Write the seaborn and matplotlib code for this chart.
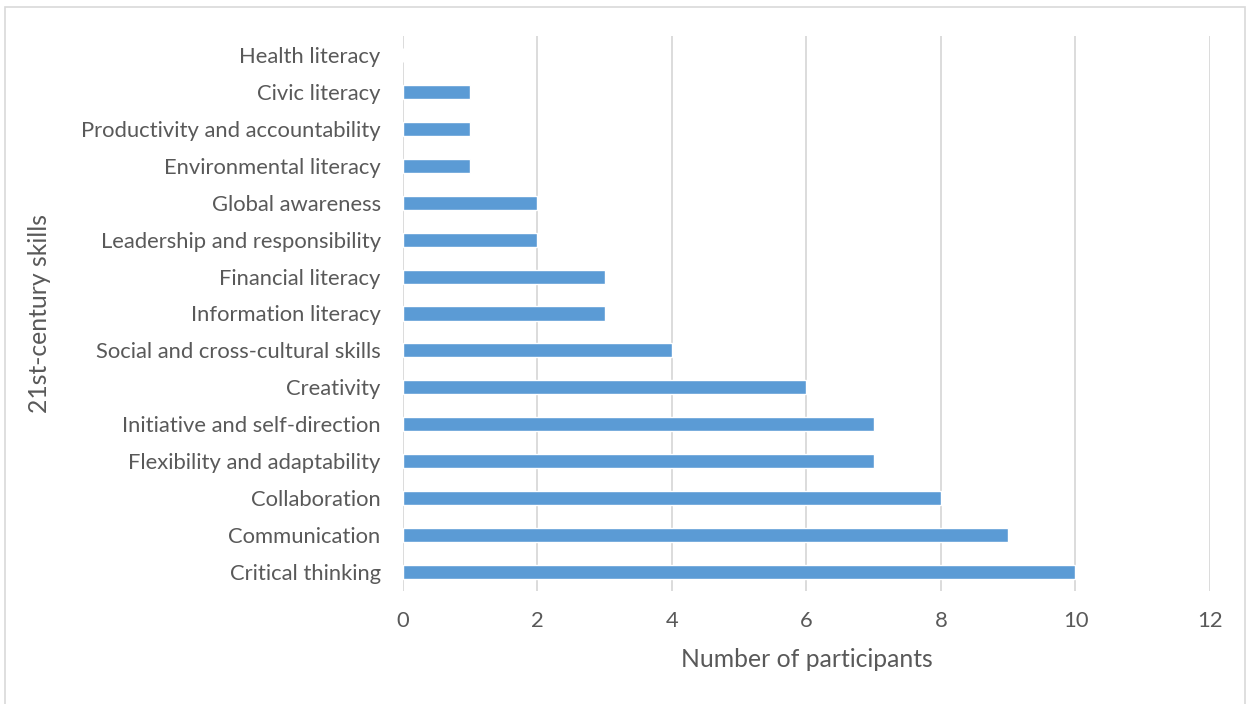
import matplotlib
matplotlib.use("Agg")
import matplotlib.pyplot as plt
import seaborn as sns
import pandas as pd
from matplotlib.patches import Rectangle

skills = [
    "Health literacy", "Civic literacy", "Productivity and accountability",
    "Environmental literacy", "Global awareness", "Leadership and responsibility",
    "Financial literacy", "Information literacy", "Social and cross-cultural skills",
    "Creativity", "Initiative and self-direction", "Flexibility and adaptability",
    "Collaboration", "Communication", "Critical thinking",
]
participants = [0, 1, 1, 1, 2, 2, 3, 3, 4, 6, 7, 7, 8, 9, 10]
x_ticks = [0, 2, 4, 6, 8, 10, 12]

sns.set_theme(style="white")
plt.rcParams["font.family"] = ["Lato", "DejaVu Sans"]

text_color = "#595959"
fig = plt.figure(figsize=(12.51, 7.04), dpi=100)
ax = fig.add_axes([0.3221, 0.1612, 0.6451, 0.787])

df = pd.DataFrame({"skill": skills, "n": participants})
sns.barplot(data=df, x="n", y="skill", order=skills, color="#5B9BD5",
            saturation=1, width=0.38, ax=ax, zorder=3)

ax.set_xlim(0, 12)
ax.set_ylim(len(skills) - 0.5, -0.5)
ax.set_xticks(x_ticks)
ax.set_xticklabels([str(t) for t in x_ticks])
ax.grid(axis="x", color="#D9D9D9", linewidth=1.3, zorder=0)
ax.grid(axis="y", visible=False)
for s in ax.spines.values():
    s.set_visible(False)
ax.tick_params(axis="both", length=0, labelsize=15.8, labelcolor=text_color)
ax.tick_params(axis="y", pad=16)
ax.tick_params(axis="x", pad=15)
ax.set_xlabel("Number of participants", fontsize=17.8, color=text_color, labelpad=12)
ax.set_ylabel("21st-century skills", fontsize=17.8, color=text_color, labelpad=22)

fig.patches.append(Rectangle((5 / 1251, -0.01), 1240 / 1251, 1 - 7 / 704 + 0.01,
                             transform=fig.transFigure, fill=False,
                             edgecolor="#D9D9D9", linewidth=1.2))

fig.savefig("out.png", dpi=100, facecolor="white")
